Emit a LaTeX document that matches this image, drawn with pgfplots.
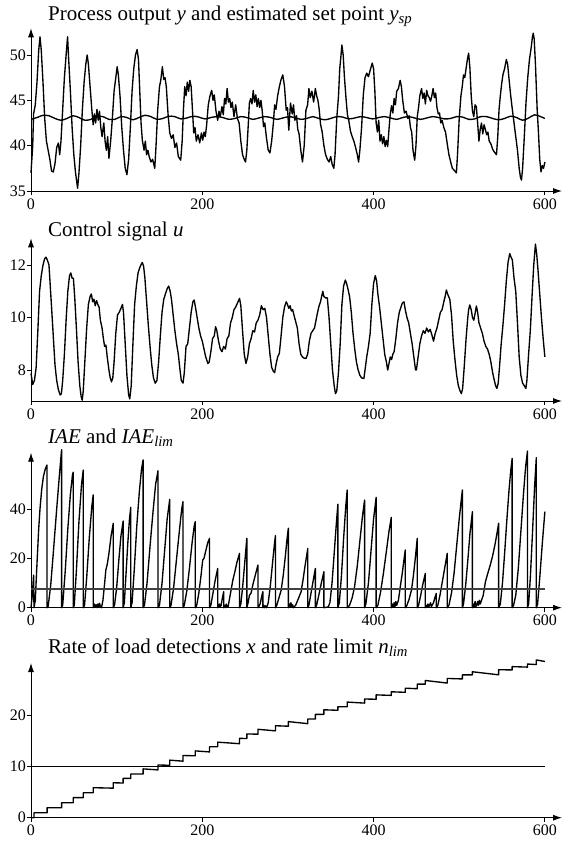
\documentclass[border=0pt]{standalone}
\usepackage{fontspec}
\setmainfont{Liberation Serif}
\usepackage{pgfplots}
\pgfplotsset{compat=1.18}
\usetikzlibrary{arrows.meta}

\pgfplotsset{
  panel/.style={
    scale only axis, width=531pt, xmin=0, xmax=620,
    anchor=south west,
    axis lines=left,
    axis line style={line width=0.9pt},
    x axis line style={-{Latex[length=9pt,width=6pt]}},
    y axis line style={-{Latex[length=9pt,width=6pt]}},
    xtick={0,200,400,600},
    tick align=outside,
    major tick length=4pt,
    tick style={line width=0.8pt, black},
    tick label style={font=\fontsize{16}{16}\selectfont},
    yticklabel style={inner xsep=1pt},
    /pgf/number format/assume math mode=true,
    clip=false,
    cycle list={{black, line width=1.35pt, mark=none}},
  },
  ln/.style={black, line width=1.35pt, mark=none, line join=round},
}
\newcommand{\ttl}{\fontsize{21}{21}\selectfont}

\begin{document}
\begin{tikzpicture}
% ---------- panel 1: process output and set point
\begin{axis}[panel, at={(31pt,-191pt)}, height=162.7pt,
  ymin=35, ymax=52.94, ytick={35,40,45,50}]
\addplot[ln] coordinates {
(0,37.0) (2,40) (3,43.5) (5,44.5) (7,47) (9,50.5) (10.5,52) (12,50.5) (14,47) (16,43)
(18,40.5) (20,39.5) (22,38.5) (24,37.2) (26,37.1) (28,38) (30,39.8) (32,40.3) (33.5,39) (35,40.5)
(37,44) (39,47.5) (41,50) (42.7,52) (44,49.5) (46,46) (48,42) (50,39) (52,37) (54.4,35.3)
(56,37) (58,40) (60,44) (62,47) (64,49) (65.6,50) (67,49) (69,46.5) (71,44) (72.6,42.3)
(74,43.5) (75.5,42.5) (77,44) (78.5,42.8) (80,43.8) (81.5,42) (83,41) (85,42.5) (86.5,40.5) (88,39.5)
(89.5,41) (91,38.6) (93,40.5) (95,43) (97,46) (99,47.5) (100.6,48.7) (102,47.8) (104,45.4) (106,42)
(108,39.5) (110,37.5) (112,36.8) (114,38.5) (116,42) (118,46) (120,48.5) (122,50) (123.9,50.6) (125.5,49.5)
(127,46) (128.5,42.5) (130,40.6) (132,39.5) (133.5,40.5) (135,39) (136.5,39.5) (138,38.8) (140,38.2) (142,38.5)
(144.5,37.5) (146,40) (148,44) (150,46.5) (151.5,47.2) (153.4,48.7) (155,47.3) (156.5,47.5) (158,46.5) (160,43.5)
(162,41.4) (164,40.8) (166,41.2) (168,39.8) (170,40.3) (172,38.8) (174.8,38.4) (176.5,40.5) (178,44) (179.5,46.5)
(181,45.5) (182.5,47) (184,46) (185.5,47.2) (187,46.5) (188.5,44) (190,41.4) (191.5,42) (193,40.5) (195,41.2)
(197,40.3) (199,41.4) (200.5,40.6) (202,41.5) (203.5,41) (205,42.2) (207,44.5) (209,45.5) (211,46.1) (212.5,45)
(214,45.6) (216,43.8) (218,42.8) (219.5,43.8) (221,43.2) (223,44.3) (224.5,43.4) (226,45.2) (227.5,44.6) (229,46.3)
(230.5,44.8) (232,45.2) (233.5,44.2) (235,44.8) (237,43.2) (239,44.5) (241,43.0) (243,42.5) (245,40.5) (247,39)
(248.5,38.6) (250.5,38.2) (252,39.5) (253.5,42) (255,44.7) (256.5,45.2) (258,44.6) (259.5,46.1) (261,44.8) (262.5,45.6)
(264,44.3) (265.5,45.2) (267,44.2) (268.5,45) (270,43.8) (271.5,42.1) (273,42.5) (275,40.8) (277,39.5) (279,39.2)
(281,40.5) (283,42.5) (284.5,44.5) (286,44) (288,45.5) (290,46.5) (292,47.3) (294,47.8) (296,46.5) (298,43.9)
(299.5,44.2) (301,41.7) (303,44.7) (305,43.5) (306.5,44.5) (308,42.8) (310,43.3) (311.5,41.8) (313,41.3) (315,39.5)
(317,38.2) (319,40) (321,43.9) (323,44.5) (324.5,46.3) (326,45.3) (328,46) (330,44.8) (332,46.3) (333.5,45.5)
(335,45) (336.5,44) (338,42.4) (340,41.5) (342,40) (344,39) (346,38.5) (348,38.2) (350,38.8) (351.5,38)
(353.6,37.5) (355,39) (357,43) (359,45.4) (360.5,48.5) (362,50) (363,51.1) (364.5,50) (366,47.5) (368,45)
(369.5,43.4) (371,42.8) (373,41.6) (375,41) (377,40.5) (379,39.8) (381,39) (382.5,38.2) (384,39.5) (386,42)
(388,45.6) (390,47.5) (392,48) (394,47.6) (396,48.3) (398.4,49.1) (400,48.5) (401.5,46) (403,42.5) (404.5,41.5)
(406,42.8) (407.5,40.5) (409,41.2) (410.5,40.2) (412,41) (413.5,39.9) (415,40.6) (416.5,39.9) (418,41.8) (419.5,43.5)
(421,44.4) (422.5,43.6) (424,45.2) (425.5,44.5) (427,46) (429,46.3) (431,47.2) (432.5,46.5) (434,45) (436,43.6)
(438,43.8) (440,43) (441.5,43.3) (443,42) (444.5,41.5) (446,39.5) (448,38.4) (449.5,40) (451,43.2) (452.5,44.2)
(454,45.5) (456,46.3) (457.5,45.2) (459,45.8) (460.5,44.6) (462,46.1) (463.5,45.5) (465,45.3) (466.5,44.9) (468,45.5)
(469.5,46.3) (471,45.3) (472.5,45.8) (474,44.2) (475.5,43.5) (477,43.6) (478.5,42.5) (480,42.8) (482,42) (484,41.5)
(486,40.2) (488,39) (490,38.2) (492,37.5) (494,37.3) (496.7,37) (498,39) (500,43) (502,45.5) (503.5,46.5)
(505,47.8) (506.5,47.5) (508,48.5) (509.5,49.5) (511,50.2) (512.5,48.5) (514,45.5) (515.5,43.8) (517,43.2) (518.5,44.5)
(520,44.3) (521.5,42.5) (523,40.5) (524.5,41.8) (526,42.5) (527.5,41.3) (529,42.3) (530.5,41.8) (532,41.2) (533.5,41.5)
(535,40.5) (537,40.2) (539,39.6) (541,39.3) (543.5,39) (545,41) (546.5,44) (548,45.5) (549.5,46.8) (551,47.8)
(553,48.5) (555,49.5) (556.5,49) (558,47.5) (560,45.6) (562,44) (564,42.5) (566,41) (568,39.5) (570,37.5)
(571.5,36.5) (572.7,36.2) (574,37.5) (576,41) (578,44.8) (580,47.5) (582,49.5) (584,50.8) (585.5,52) (586.4,52.4)
(587.5,51.8) (589,49) (591,44) (592.5,41.5) (594,38.5) (595.5,37.1) (597,37.8) (598.5,37.5) (600,38.2)
};
\addplot[ln, smooth] coordinates {
(0,42.9) (7,43.1) (14,43.35) (21,43.3) (28,43.0) (35,42.8) (42,43.0) (49,43.3) (56,43.1) (63,42.8)
(70,42.9) (77,43.2) (84,43.2) (91,42.9) (98,42.9) (105,43.2) (112,43.1) (119,42.85) (126,43.1) (133,43.35)
(140,43.2) (147,42.9) (154,43.0) (161,43.25) (168,43.2) (175,42.95) (182,43.05) (189,43.25) (196,43.15) (203,42.95)
(210,43.1) (217,43.2) (224,43.1) (231,42.9) (238,43.0) (245,43.2) (252,43.1) (259,42.9) (266,43.05) (273,43.2)
(280,43.1) (287,42.9) (294,43.05) (301,43.2) (308,43.1) (315,42.9) (322,43.0) (329,43.2) (336,43.0) (343,42.85)
(350,43.0) (357,43.2) (364,43.15) (371,42.95) (378,43.05) (385,43.2) (392,43.1) (399,42.95) (406,43.1) (413,43.2)
(420,43.05) (427,42.9) (434,43.1) (441,43.2) (448,43.05) (455,42.9) (462,43.05) (469,43.2) (476,43.1) (483,42.95)
(490,43.0) (497,43.2) (504,43.15) (511,42.9) (518,42.95) (525,43.2) (532,43.2) (539,43.0) (546,42.85) (553,43.0)
(560,43.25) (567,43.1) (574,42.8) (581,43.05) (588,43.4) (595,43.2) (600,43.0)
};
\end{axis}
% ---------- panel 2: control signal
\begin{axis}[panel, at={(31pt,-401pt)}, height=162.7pt,
  ymin=6.82, ymax=13.02, ytick={8,10,12}]
\addplot[ln] coordinates {
(0,7.87) (2,7.45) (4,7.6) (6,8.1) (8,9.5) (10,11.0) (12,11.6) (14,12.0) (16,12.25) (17.5,12.3)
(19,12.2) (21,12.0) (22.5,11.2) (24,10.4) (26,9.3) (28,8.2) (30,7.6) (32,7.25) (34,7.05) (35.5,7.1)
(37,7.6) (39,8.6) (41,9.9) (43,11.0) (45,11.6) (46.5,11.7) (48,11.5) (49.5,11.5) (51,10.8) (53,9.6)
(55,8.3) (57,7.4) (58.5,7.0) (59.8,6.85) (61,7.2) (63,8.4) (65,9.6) (67,10.5) (69,10.8) (70.5,10.9)
(72,10.6) (73.5,10.7) (75,10.45) (76.5,10.65) (78,10.5) (79.5,10.4) (81,9.9) (83,9.6) (84.5,9.2) (86,8.9)
(87.5,8.95) (89,8.5) (91,8.0) (92.5,7.7) (94,7.55) (95.5,7.7) (97,8.3) (99,9.4) (101,10.1) (103,10.2)
(105,10.35) (106.8,10.5) (108,10.2) (110,9.0) (112,7.8) (114,7.05) (115.3,6.9) (117,7.4) (119,9.0) (121,10.5)
(123,11.2) (125,11.7) (127,11.9) (129,12.05) (130,12.1) (131.5,11.95) (133,11.5) (135,10.6) (137,9.7) (139,8.9)
(141,8.2) (143,7.7) (145,7.5) (147,7.6) (149,8.3) (151,9.3) (153,10.2) (155,10.7) (157,10.9) (159,11.1)
(160.8,11.2) (162.5,11.0) (164,10.7) (166,10.1) (168,9.5) (170,9.0) (172,8.6) (174,8.0) (175.5,7.6) (177.5,7.5)
(179,7.9) (181,8.9) (183,9.0) (185,9.6) (187,10.2) (189,10.6) (190.5,10.67) (192,10.4) (194,10.0) (196,9.6)
(198,9.3) (200,9.1) (202,8.8) (204,8.5) (206.6,8.25) (208,8.3) (210,8.7) (212,9.2) (214,9.3) (215.5,9.65)
(217,9.5) (219,9.1) (221,8.8) (223,8.7) (225,8.9) (227,8.8) (229,9.2) (231,9.3) (233,9.8) (235,10.0)
(237,10.3) (239,10.4) (241,10.55) (243.5,10.73) (245,10.45) (247,9.5) (249,8.6) (251,8.25) (253,8.5) (255,9.0)
(257,9.2) (259,9.5) (261,9.45) (263,9.8) (265,9.9) (267,10.1) (269,10.45) (271,10.3) (273,10.35) (275,10.0)
(277,9.3) (279,8.6) (281,8.1) (283,7.95) (284.5,7.9) (286,8.2) (288,8.5) (290,8.64) (292,9.3) (294,10.0)
(296,10.4) (298,10.6) (299.5,10.5) (301,10.35) (302.5,10.45) (304,10.25) (305.5,10.3) (307,10.1) (309,9.85) (311,9.6)
(313,9.0) (315,8.6) (317,8.5) (319,8.45) (321,8.44) (323,8.6) (325,9.1) (327,9.4) (329,9.5) (331,9.6)
(332.5,9.85) (334,10.1) (336,10.4) (338,10.6) (340.7,11.0) (342,10.8) (344,10.75) (346,10.75) (348,10.0) (350,9.0)
(352,8.0) (354,7.4) (355.5,7.1) (357,7.2) (359,7.9) (361,9.0) (363,10.5) (365,11.2) (367,11.43) (368.5,11.3)
(370,11.1) (372,10.8) (374,10.2) (376,9.4) (378,8.8) (380,8.3) (382,8.0) (384,7.8) (386,7.7) (388.7,7.68)
(390,8.0) (392,8.5) (394,8.9) (396,9.4) (398,10.5) (400,11.3) (402,11.6) (403.5,11.4) (405,10.9) (407,10.4)
(409,9.8) (411,9.2) (413,8.6) (415,8.3) (416.5,8.0) (418,8.25) (419.5,8.5) (421,8.4) (422.5,8.6) (424,8.7)
(426,9.2) (428,9.8) (430,10.2) (432,10.4) (433.5,10.55) (435.5,10.6) (437,10.3) (439,10.0) (441,9.8) (443,9.4)
(445,9.0) (447,8.5) (449,8.0) (450,8.0) (452,8.5) (454,9.0) (456,9.3) (458,9.5) (460,9.4) (462,9.6)
(464,9.45) (466,9.55) (468,9.35) (470,9.1) (472,9.4) (474,9.6) (476,9.9) (478,10.2) (480,10.3) (482,10.6)
(483.5,10.8) (485,11.05) (487,10.85) (489,10.7) (491,10.1) (493,9.1) (495,8.4) (497,7.8) (499,7.4) (501,7.2)
(502.5,7.1) (504,7.3) (506,8.2) (508,9.2) (510,10.0) (511,10.3) (512.3,10.48) (514,10.3) (515.5,10.0) (517,9.9)
(518.5,10.15) (520,10.44) (521.5,10.2) (523,9.8) (525,9.6) (527,9.4) (529,9.1) (531,8.9) (533,8.8) (535,8.6)
(537,8.3) (539,7.9) (541,7.6) (542.5,7.4) (544,7.3) (545.5,7.5) (547,8.1) (549,9.0) (551,9.7) (553,10.5)
(555,11.4) (557,12.1) (559,12.44) (560.5,12.3) (562,12.2) (564,11.5) (566,11.0) (568,9.8) (570,8.5) (572,7.8)
(574,7.5) (576,7.4) (577.8,7.3) (579,7.6) (581,8.6) (583,9.5) (585,10.8) (587,12.0) (589,12.8) (590.5,12.4)
(592,11.8) (594,10.9) (596,10.0) (598,9.2) (600,8.5)
};
\end{axis}
% ---------- panel 3: IAE and IAE_lim
\begin{axis}[panel, at={(31pt,-607.7pt)}, height=155pt,
  ymin=0, ymax=62.8, ytick={0,20,40}]
\addplot[ln] coordinates {
(0,0) (1.5,5) (3,13.2) (3.5,0)
(5,3) (7,18) (9,32) (10.5,40) (12.5,48) (14.4,53) (16.5,56) (18.6,57.8) (18.6,0)
(20,0.5) (23,9) (26,22) (30,40) (33,53) (35.7,64) (35.7,0)
(37,1) (40,15) (43,32) (46,46) (48.5,54) (49.3,54.9) (49.3,0)
(50.5,1) (53,15) (56,35) (59,50) (61,55.8) (61,0)
(62.5,1) (65,12) (68,28) (71,41) (72.6,45.7) (72.6,0)
(74,1.5) (75,0.3) (76,1.2) (77,0) (78,1.5) (79,0.2) (80,1.8) (81,0.5) (82.3,0)
(84,3) (86,10) (87.4,15.3) (89,17.5) (91,22) (93.5,29) (96,34.2) (96,0)
(97.5,1) (100,8) (102.5,19) (105,29) (107.6,35.1) (107.6,0)
(109,2) (111,14) (113,26) (115,36) (116.5,40.7) (116.5,0)
(118,2) (120.5,15) (123.5,33) (126.5,47) (129,56) (130.9,59.9) (130.9,0)
(132.5,1) (135.5,10) (139,25) (142.5,39) (145.5,50) (148.3,55.5) (148.3,0)
(150,1) (153,10) (156,23) (159,36) (162,43.9) (162,0)
(163.5,1) (166.5,8) (170,20) (173.5,32) (176,40) (177.5,43) (177.5,0)
(179,1) (182,7) (185,16) (188,26) (190.5,33) (191.8,34.9) (191.8,0)
(193.5,1) (196,6) (198.5,13) (200.5,19.3) (202,20) (204,23) (206.5,26.5) (208.5,28.1) (208.5,0)
(210,1) (212.5,6) (215,11) (218,15.9) (218,0)
(219,0.5) (220,1.5) (221,0.2) (222,1) (223.5,4) (225,6.5) (225,0)
(226,1) (227,0) (228,1.5) (229,0.5) (230,0.2) (231.5,3)
(233,6) (235.7,11.2) (238,14.5) (240.5,18.5) (243.5,22) (243.5,0)
(245,1.5) (247,8) (249.5,18) (252,28.1) (252,0)
(253.5,2) (255,5) (257,6) (259.5,10) (262.5,14) (265,17.3) (265,0)
(266,0.5) (267.5,1.5) (269,4) (270.7,6.5) (270.7,0)
(271.5,1) (272.5,0) (273.5,0.8) (275,0)
(277,2) (279.5,9) (282,18) (284,25) (285.4,29.2) (285.4,0)
(287,1) (289.5,4) (292,7) (294.5,13) (297,21) (299,28) (300.5,32.2) (300.5,0)
(301.5,1.5) (302.5,0.3) (303.5,2) (304.5,0.5) (305.5,1.2) (306.5,0)
(309,1) (312,3.5) (315.4,6.5) (317.5,11) (320,17) (323.2,24) (323.2,0)
(324.5,1) (326.5,5) (329,10) (332,15.9) (332,0)
(333.5,1) (336,5) (339,10) (342,14.6) (342,0)
(345,0.2) (347,0.3)
(349,2) (351.5,10) (354,22) (356.5,34) (358.3,41.9) (358.3,0)
(360,2) (362.5,13) (365,28) (367.5,41) (369.2,47.7) (369.2,0)
(372,1) (375,4) (377.8,8.5) (381,17) (384,27) (387,37) (389.5,43.6) (389.5,0)
(391,1.5) (394,10) (397,23) (400,36) (403,44.7) (403,0)
(405,1) (408,6) (411.5,14) (415,23) (418,31) (420.7,36.6) (420.7,0)
(422,1.5) (423,0.3) (424,2) (425,0.5) (426,2.5) (427,1)
(429,3) (431,8) (433.5,14) (435.5,19.5) (437,23.4) (437,0)
(439,1) (441.5,3.5) (444.3,7.2) (446.5,13) (449,21) (451,28.1) (451,0)
(452.5,1) (455,5) (457.5,9.5) (460.4,13.9) (460.4,0)
(461.5,1) (462.5,0.3) (463.5,1.5) (464.5,0.4) (465.5,1) (466.5,2) (467.5,0.5) (470,2) (471.5,4) (473.2,5.8) (473.2,0)
(475,1) (477.5,5) (480,10) (483,16) (486,22) (486,0)
(488,1) (491,6) (494,14) (497,25) (500,36) (502.5,44) (503.7,47.7) (503.7,0)
(505,1.5) (507.5,9) (510,19) (512.5,30) (515.4,38.9) (515.4,0)
(516.5,1.5) (517.5,0.3) (518.5,2.5) (519.5,0.5) (520.5,1) (521.5,2.5) (522.5,1) (523.5,3) (524.5,1.5) (526,3)
(528,5) (530.6,10.5) (533,13.5) (536,17) (539,21) (542,26) (544.5,31) (546,34.2) (546,0)
(548,1.5) (550.5,10) (553,22) (555.5,35) (558,47) (560,55) (561.8,60.5) (561.8,0)
(563.5,1) (566,5) (569,16) (572,31) (575,46) (577.5,57) (579.7,63.5) (579.7,0)
(581,1.5) (583,12) (585.5,30) (588,49) (590,60.8) (590,0)
(591.5,1.5) (594,12) (597,26) (600,38.9)
};
\addplot[black!75, line width=1.4pt, mark=none] coordinates {(0,7.6) (600,7.6)};
\end{axis}
% ---------- panel 4: rate of load detections
\begin{axis}[panel, at={(31pt,-817.7pt)}, height=154.7pt,
  ymin=0, ymax=30.1, ytick={0,10,20}]
\addplot[ln] coordinates {
(0,0) (3.5,0) (3.5,0.97) (18.8,0.97) (18.8,1.95) (35.7,1.93) (35.7,2.92) (49.3,2.92) (49.3,3.9)
(61,3.9) (61,4.87) (72.6,4.87) (72.6,5.84) (96,5.75) (96,6.8) (107.6,6.75) (107.6,7.66)
(116.5,7.65) (116.5,8.5) (130.9,8.5) (130.9,9.5) (148.3,9.3) (148.3,10.26) (162,10.2) (162,11.2)
(177.5,11.0) (177.5,12.1) (191.8,12.05) (191.8,13.0) (208.5,12.8) (208.5,13.8) (218,13.8) (218,14.7)
(243.5,14.4) (243.5,15.45) (252,15.4) (252,16.3) (265,16.25) (265,17.2) (285.4,16.9) (285.4,17.9)
(300.5,17.8) (300.5,18.7) (323.2,18.3) (323.2,19.2) (332,19.2) (332,20.1) (342,20.1) (342,21.0)
(358.3,20.9) (358.3,21.6) (369.2,21.6) (369.2,22.5) (389.5,22.3) (389.5,23.1) (403,23.05) (403,23.9)
(420.7,23.8) (420.7,24.5) (437,24.4) (437,25.2) (451,25.1) (451,26.0) (460.4,26.0) (460.4,26.7)
(486,26.2) (486,27.1) (503.7,27.0) (503.7,27.8) (515.4,27.8) (515.4,28.4) (546,27.8) (546,28.8)
(561.8,28.75) (561.8,29.4) (579.7,29.3) (579.7,29.9) (590,29.8) (590,30.7) (600,30.4)
};
\addplot[black, line width=1.0pt, mark=none] coordinates {(0,10) (600,10)};
\end{axis}
% ---------- panel titles
\begin{scope}[every node/.style={anchor=base west, inner sep=0pt, font=\ttl}]
\node at (48pt,-20.7pt) {Process output \textit{y} and estimated set point \textit{y}\textsubscript{\textit{sp}}};
\node at (48pt,-236pt) {Control signal \textit{u}};
\node at (48pt,-443.5pt) {\textit{IAE} and \textit{IAE}\textsubscript{\textit{lim}}};
\node at (48pt,-653.3pt) {Rate of load detections \textit{x} and rate limit \textit{n}\textsubscript{\textit{lim}}};
\end{scope}
\pgfresetboundingbox
\path (0pt,0pt) rectangle (563pt,-846pt);
\end{tikzpicture}
\end{document}
